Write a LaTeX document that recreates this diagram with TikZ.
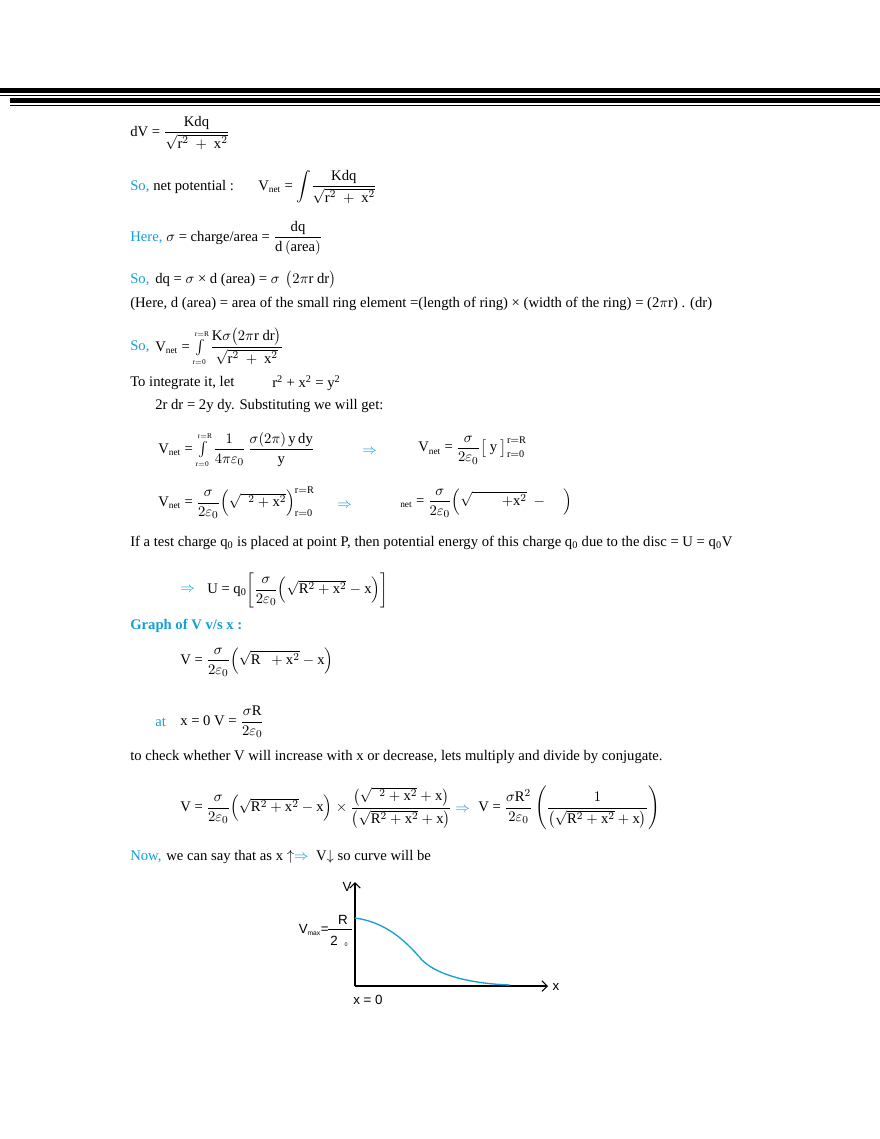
\documentclass[tikz,border=0pt]{standalone}
\usepackage{amsmath}
\usepackage{fontspec}
\usetikzlibrary{arrows.meta}
\setmainfont{Liberation Serif}
\newfontfamily\gsans{Liberation Sans}
\definecolor{bl}{RGB}{20,160,215}
\begin{document}
\begin{tikzpicture}[x=0.75pt,y=-0.75pt,
  t/.style={anchor=west,inner sep=0pt,font=\fontsize{11}{13}\selectfont},
  b/.style={t,text=bl},
  g/.style={inner sep=0pt,font=\gsans\fontsize{10}{12}\selectfont}]
\useasboundingbox (0,0) rectangle (880,1139);
\fill[white] (0,0) rectangle (880,1139);
% header rules
\fill[black] (0,88) rectangle (880,92.5);
\draw[line width=0.8pt] (0,95.5) -- (880,95.5);
\fill[black] (10,98) rectangle (880,102.5);
\draw[line width=0.8pt] (10,105.5) -- (880,105.5);
\node[t] (l1) at (130,133) {dV = $\dfrac{\mathrm{Kdq}}{\sqrt{\mathrm{r}^2\ +\ \mathrm{x}^2}}$};
\node[b] (l2a) at (130,187) {So,};
\node[t] (l2b) at (153,187) {net potential :};
\node[t] (l2c) at (258,187) {V\textsubscript{\scriptsize net} = $\displaystyle\int\!\dfrac{\mathrm{Kdq}}{\sqrt{\mathrm{r}^2\ +\ \mathrm{x}^2}}$};
\node[b] (l3a) at (130,238) {Here,};
\node[t] (l3b) at (166,238) {$\sigma$ = charge/area = $\dfrac{\mathrm{dq}}{\mathrm{d\,(area)}}$};
\node[b] (l4a) at (130,280) {So,};
\node[t] (l4b) at (155,280) {dq = $\sigma$ × d (area) = $\sigma$ \,$\big(2\pi$r dr$\big)$};
\node[t] (l5) at (130,304) {(Here, d (area) = area of the small ring element =(length of ring) × (width of the ring) = (2$\pi$r) . (dr)};
\node[b] (l6a) at (130,347) {So,};
\node[t] (l6b) at (155,347) {V\textsubscript{\scriptsize net} = $\textstyle\int\limits_{\scriptscriptstyle\mathrm{r=0}}^{\scriptscriptstyle\mathrm{r=R}}\dfrac{\mathrm{K}\sigma\big(2\pi\mathrm{r\ dr}\big)}{\sqrt{\mathrm{r}^2\ +\ \mathrm{x}^2}}$};
\node[t] (l7a) at (130,383) {To integrate it, let};
\node[t] (l7b) at (272,383) {r\textsuperscript{2} + x\textsuperscript{2} = y\textsuperscript{2}};
\node[t] (l8) at (155,406) {2r dr = 2y dy. Substituting we will get:};
\node[t] (l9a) at (158,450) {V\textsubscript{\scriptsize net} = $\textstyle\int\limits_{\scriptscriptstyle\mathrm{r=0}}^{\scriptscriptstyle\mathrm{r=R}}\dfrac{1}{4\pi\varepsilon_0}\,\dfrac{\sigma(2\pi)\,\mathrm{y\,dy}}{\mathrm{y}}$};
\node[t,text=bl] (l9b) at (362,452) {$\Rightarrow$};
\node[t] (l9c) at (418,450) {V\textsubscript{\scriptsize net} = $\dfrac{\sigma}{2\varepsilon_0}\big[\ \mathrm{y}\ \big]_{\mathrm{r=0}}^{\mathrm{r=R}}$};
\node[t] (l10a) at (158,503) {V\textsubscript{\scriptsize net} = $\dfrac{\sigma}{2\varepsilon_0}\Big(\sqrt{\ \ ^2+\mathrm{x}^2}\Big)_{\mathrm{r=0}}^{\mathrm{r=R}}$};
\node[t,text=bl] (l10b) at (337,506) {$\Rightarrow$};
\node[t] (l10c) at (400,503) {\textsubscript{\scriptsize net} = $\dfrac{\sigma}{2\varepsilon_0}\Big(\sqrt{\qquad+\mathrm{x}^2}\ -\quad\Big)$};
\node[t] (l11) at (130,543) {If a test charge q\textsubscript{0} is placed at point P, then potential energy of this charge q\textsubscript{0} due to the disc = U = q\textsubscript{0}V};
\node[t,text=bl] (l12a) at (180,590) {$\Rightarrow$};
\node[t] (l12b) at (207,590) {U = q\textsubscript{0}$\left[\dfrac{\sigma}{2\varepsilon_0}\Big(\sqrt{\mathrm{R}^2+\mathrm{x}^2}-\mathrm{x}\Big)\right]$};
\node[b,font=\fontsize{11}{13}\selectfont\bfseries] (l13) at (130,626) {Graph of V v/s x :};
\node[t] (l14) at (180,662) {V = $\dfrac{\sigma}{2\varepsilon_0}\Big(\sqrt{\mathrm{R}\ \ +\mathrm{x}^2}-\mathrm{x}\Big)$};
\node[b] (l15a) at (155,722) {at};
\node[t] (l15b) at (180,722) {x = 0 V = $\dfrac{\sigma\mathrm{R}}{2\varepsilon_0}$};
\node[t] (l16) at (130,757) {to check whether V will increase with x or decrease, lets multiply and divide by conjugate.};
\node[t] (l17a) at (180,808) {V = $\dfrac{\sigma}{2\varepsilon_0}\Big(\sqrt{\mathrm{R}^2+\mathrm{x}^2}-\mathrm{x}\Big)\times\dfrac{\big(\sqrt{\ \ ^2+\mathrm{x}^2}+\mathrm{x}\big)}{\big(\sqrt{\mathrm{R}^2+\mathrm{x}^2}+\mathrm{x}\big)}$};
\node[t,text=bl] (l17b) at (455,810) {$\Rightarrow$};
\node[t] (l17c) at (478,808) {V = $\dfrac{\sigma\mathrm{R}^2}{2\varepsilon_0}\left(\dfrac{1}{\big(\sqrt{\mathrm{R}^2+\mathrm{x}^2}+\mathrm{x}\big)}\right)$};
\node[b] (l18a) at (130,857) {Now,};
\node[t] (l18b) at (166,857) {we can say that as x $\uparrow$\textcolor{bl}{$\Rightarrow$}\ \ V$\downarrow$ so curve will be};
% graph
\coordinate (o) at (355,986);
\coordinate (ytop) at (355,882);
\coordinate (xend) at (548,986);
\draw[line width=0.8pt,-{Straight Barb[length=4pt]}] (o) -- (ytop);
\draw[line width=0.8pt,-{Straight Barb[length=4pt]}] (o) -- (xend);
\node[g] (V) at (347,887) {V};
\node[g] (X) at (556,987) {x};
\node[g] (x0) at (368,1000) {x = 0};
\node[g,anchor=east] (vm) at (329,930) {V\textsubscript{\tiny max}=};
\draw[line width=0.8pt] (328,929.5) -- (352,929.5);
\node[g] (R) at (343,920) {R};
\node[g] (two) at (334,941) {2};
\node[g,font=\gsans\fontsize{4}{5}\selectfont] (zero) at (346,945) {0};
\draw[bl,line width=1pt] (355,918) .. controls (385,922) and (405,940) .. (422,960)
  .. controls (440,978) and (480,984) .. (510,985);
\end{tikzpicture}
\end{document}
